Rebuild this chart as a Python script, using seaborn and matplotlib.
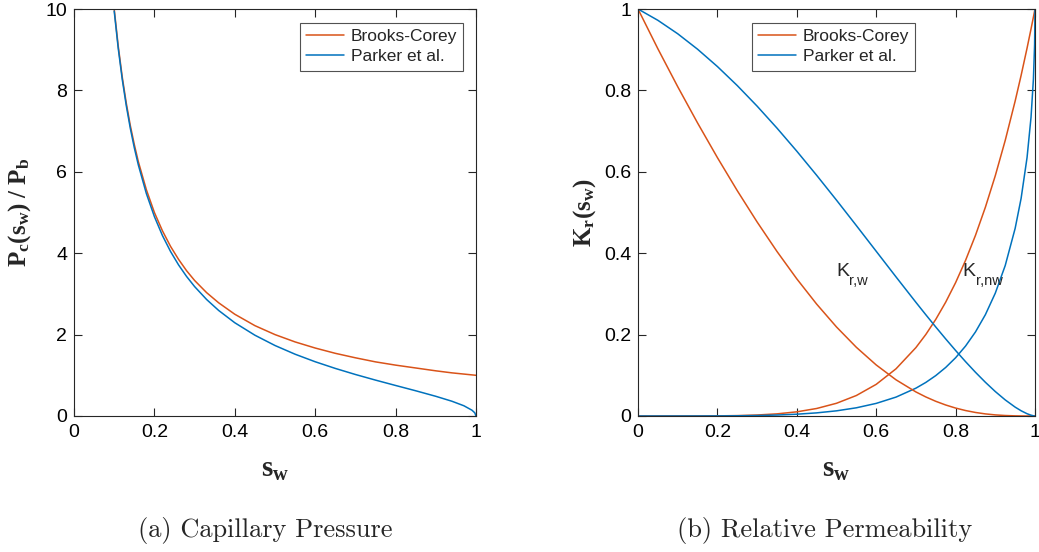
import matplotlib
matplotlib.use("Agg")
import matplotlib.pyplot as plt
import seaborn as sns
import pandas as pd

# ---- capillary pressure data, Pc/Pb against water saturation ----
sw_pc = [0.10, 0.11, 0.12, 0.13, 0.14, 0.15, 0.16, 0.18, 0.20, 0.22, 0.24, 0.26,
         0.28, 0.30, 0.33, 0.36, 0.40, 0.45, 0.50, 0.55, 0.60, 0.65, 0.70, 0.75,
         0.80, 0.85, 0.90, 0.94, 0.97, 0.99, 0.997, 1.0]
pc_brooks_corey = [10.0, 9.09, 8.33, 7.69, 7.14, 6.67, 6.25, 5.56, 5.00, 4.55, 4.17, 3.85,
                   3.57, 3.33, 3.03, 2.78, 2.50, 2.22, 2.00, 1.82, 1.67, 1.54, 1.43, 1.33,
                   1.25, 1.18, 1.11, 1.06, 1.03, 1.01, 1.003, 1.00]
pc_parker = [9.95, 9.036, 8.273, 7.627, 7.072, 6.591, 6.170, 5.465, 4.899, 4.434, 4.045, 3.714,
             3.429, 3.180, 2.861, 2.592, 2.291, 1.985, 1.732, 1.518, 1.333, 1.169, 1.020, 0.882,
             0.750, 0.620, 0.484, 0.363, 0.251, 0.142, 0.078, 0.0]

# ---- relative permeability data ----
sw_kr = [0.0, 0.05, 0.10, 0.15, 0.20, 0.25, 0.30, 0.35, 0.40, 0.45, 0.50, 0.55, 0.60,
         0.65, 0.70, 0.725, 0.75, 0.775, 0.80, 0.825, 0.85, 0.875, 0.90, 0.925, 0.95,
         0.965, 0.98, 0.99, 0.996, 0.999, 1.0]
kr_bc_rising = [0.0, 0.0, 0.00001, 0.000076, 0.00032, 0.000977, 0.00243, 0.00525, 0.01024,
                0.01845, 0.03125, 0.05033, 0.07776, 0.11603, 0.16807, 0.2003, 0.2373, 0.2796,
                0.32768, 0.3822, 0.4437, 0.5129, 0.59049, 0.6772, 0.7738, 0.8368, 0.9039,
                0.9510, 0.9802, 0.9950, 1.0]
kr_bc_falling = [1.0, 0.90239, 0.80919, 0.72006, 0.63488, 0.55371, 0.47677, 0.40439, 0.33696,
                 0.27493, 0.21875, 0.16881, 0.12544, 0.08886, 0.05913, 0.04681, 0.036133,
                 0.02706, 0.01952, 0.013429, 0.008682, 0.005157, 0.00271, 0.001173, 0.000357,
                 0.000124, 0.0000235, 0.000003, 0.0, 0.0, 0.0]
kr_parker_rising = [0.0, 0.0, 0.0000079, 0.0000496, 0.000183, 0.000504, 0.001162, 0.002367,
                    0.004408, 0.007676, 0.012692, 0.02015, 0.030984, 0.046465, 0.068367,
                    0.082488, 0.099268, 0.119245, 0.143108, 0.171768, 0.206456, 0.24894,
                    0.301889, 0.369744, 0.461024, 0.534663, 0.635158, 0.73407, 0.82762,
                    0.912123, 1.0]
kr_parker_falling = [1.0, 0.972242, 0.939196, 0.90121, 0.85865, 0.811899, 0.761361, 0.707463,
                     0.650661, 0.591442, 0.53033, 0.467897, 0.404772, 0.341654, 0.279339,
                     0.248764, 0.21875, 0.18944, 0.160997, 0.133604, 0.107475, 0.082864,
                     0.060083, 0.039539, 0.021802, 0.012867, 0.0056, 0.00199, 0.000505,
                     0.0000632, 0.0]

x_ticks = [0, 0.2, 0.4, 0.6, 0.8, 1]
x_tick_labels = ["0", "0.2", "0.4", "0.6", "0.8", "1"]
pc_ticks = [0, 2, 4, 6, 8, 10]
kr_ticks = [0, 0.2, 0.4, 0.6, 0.8, 1]
kr_tick_labels = ["0", "0.2", "0.4", "0.6", "0.8", "1"]

ORANGE = "#D95319"
BLUE = "#0072BD"

sns.set_theme(style="ticks")
plt.rcParams.update({
    "font.family": ["Liberation Sans", "DejaVu Sans"],
    "mathtext.fontset": "custom",
    "mathtext.rm": "Liberation Serif",
    "mathtext.bf": "Liberation Serif:bold",
    "mathtext.it": "Liberation Serif:italic",
    "mathtext.sf": "Liberation Sans",
    "axes.edgecolor": "#262626",
    "axes.linewidth": 0.8,
    "xtick.direction": "in",
    "ytick.direction": "in",
    "xtick.top": True,
    "ytick.right": True,
    "xtick.major.size": 6,
    "ytick.major.size": 6,
    "xtick.major.width": 0.8,
    "ytick.major.width": 0.8,
    "xtick.color": "#262626",
    "ytick.color": "#262626",
    "xtick.labelcolor": "black",
    "ytick.labelcolor": "black",
    "xtick.labelsize": 14,
    "ytick.labelsize": 14,
    "xtick.major.pad": 6,
    "ytick.major.pad": 5,
})

W, H = 1039, 552
fig = plt.figure(figsize=(W / 100, H / 100), dpi=100)
ax1 = fig.add_axes([74 / W, (H - 416) / H, 402 / W, 407 / H])
ax2 = fig.add_axes([638 / W, (H - 416) / H, 397 / W, 407 / H])

lw = 1.1

# left panel: capillary pressure
pc_df = pd.DataFrame({"sw": sw_pc, "bc": pc_brooks_corey, "pk": pc_parker})
sns.lineplot(data=pc_df, x="sw", y="bc", ax=ax1, color=ORANGE, lw=lw,
             estimator=None, sort=False, label="Brooks-Corey")
sns.lineplot(data=pc_df, x="sw", y="pk", ax=ax1, color=BLUE, lw=lw,
             estimator=None, sort=False, label="Parker et al.")
ax1.set_xlim(0, 1)
ax1.set_ylim(0, 10)
ax1.set_xticks(x_ticks, x_tick_labels)
ax1.set_yticks(pc_ticks, [str(t) for t in pc_ticks])
ax1.set_xlabel(r"$\mathbf{s_w}$", fontsize=21, labelpad=10)
ax1.set_ylabel(r"$\mathbf{P_c(s_w)\ /\ P_b}$", fontsize=18, labelpad=9)

# right panel: relative permeability
kr_df = pd.DataFrame({"sw": sw_kr, "bc_up": kr_bc_rising, "bc_dn": kr_bc_falling,
                      "pk_up": kr_parker_rising, "pk_dn": kr_parker_falling})
sns.lineplot(data=kr_df, x="sw", y="bc_up", ax=ax2, color=ORANGE, lw=lw,
             estimator=None, sort=False, label="Brooks-Corey")
sns.lineplot(data=kr_df, x="sw", y="pk_up", ax=ax2, color=BLUE, lw=lw,
             estimator=None, sort=False, label="Parker et al.")
sns.lineplot(data=kr_df, x="sw", y="bc_dn", ax=ax2, color=ORANGE, lw=lw,
             estimator=None, sort=False)
sns.lineplot(data=kr_df, x="sw", y="pk_dn", ax=ax2, color=BLUE, lw=lw,
             estimator=None, sort=False)
ax2.set_xlim(0, 1)
ax2.set_ylim(0, 1)
ax2.set_xticks(x_ticks, x_tick_labels)
ax2.set_yticks(kr_ticks, kr_tick_labels)
ax2.set_xlabel(r"$\mathbf{s_w}$", fontsize=21, labelpad=10)
ax2.set_ylabel(r"$\mathbf{K_r(s_w)}$", fontsize=18, labelpad=4)

# curve annotations: a large K with a smaller, lowered subscript
for x0, sub in ((0.500, "r,w"), (0.818, "r,nw")):
    ax2.text(x0, 0.355, "K", fontsize=14, va="center", ha="left")
    ax2.annotate(sub, xy=(x0, 0.355), xytext=(9.2, -7), textcoords="offset points",
                 fontsize=10.5, va="center", ha="left")

for ax, anchor in ((ax1, (0.968, 0.966)), (ax2, (0.698, 0.966))):
    for s in ax.spines.values():
        s.set_visible(True)
    leg = ax.legend(loc="upper right", bbox_to_anchor=anchor, fontsize=12.5,
                    frameon=True, fancybox=False, handlelength=2.15,
                    borderpad=0.35, labelspacing=0.3, handletextpad=0.4,
                    borderaxespad=0.0)
    leg.get_frame().set_edgecolor("#262626")
    leg.get_frame().set_linewidth(0.8)

fig.text(265 / W, 1 - 530 / H, "(a) Capillary Pressure", fontfamily="cmr10",
         fontsize=19, ha="center", va="center")
fig.text(825 / W, 1 - 530 / H, "(b) Relative Permeability", fontfamily="cmr10",
         fontsize=19, ha="center", va="center")

fig.savefig("out.png", dpi=100)
